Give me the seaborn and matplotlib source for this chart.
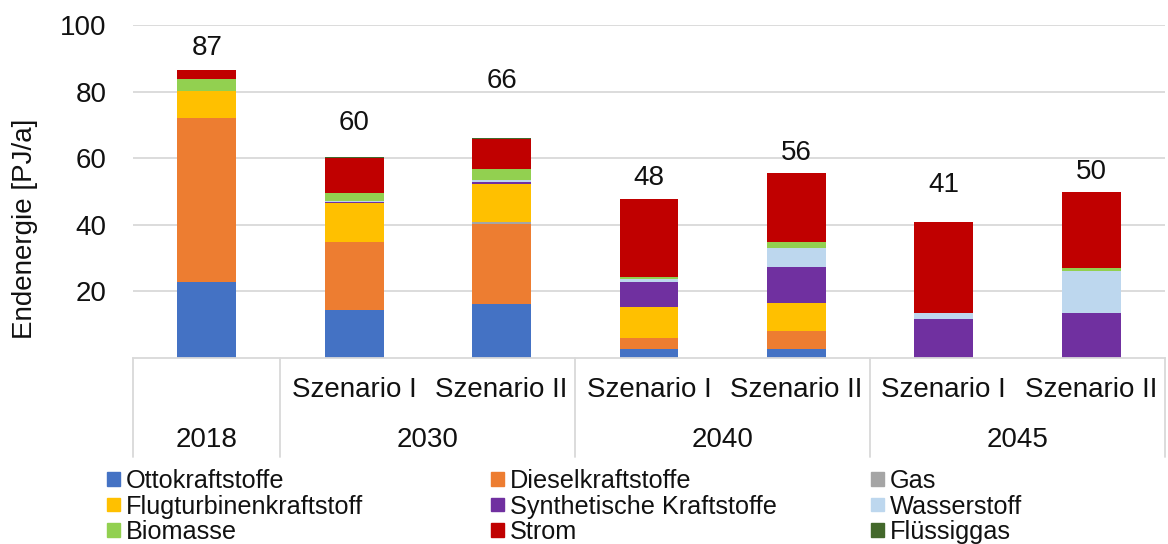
import matplotlib
matplotlib.use("Agg")
import matplotlib.pyplot as plt
import matplotlib.patches as mpatches
import matplotlib.transforms as mtransforms
import numpy as np
import pandas as pd
import seaborn as sns

# categories (year / scenario)
cats = ["2018", "2030 I", "2030 II", "2040 I", "2040 II", "2045 I", "2045 II"]
scen_labels = ["", "Szenario I", "Szenario II", "Szenario I", "Szenario II", "Szenario I", "Szenario II"]
years = ["2018", "2030", "2040", "2045"]

# PJ/a per energy carrier
otto = [22.8, 14.3, 16.3, 2.6, 2.6, 0, 0]
diesel = [49.3, 20.5, 23.9, 3.5, 5.6, 0, 0]
gas = [0, 0, 0.7, 0, 0, 0, 0]
flug = [8.2, 11.8, 11.3, 9.1, 8.3, 0, 0]
synth = [0, 0.3, 0.8, 7.6, 10.8, 11.7, 13.6]
wasserstoff = [0, 0.1, 0.4, 0.8, 5.6, 1.9, 12.6]
biomasse = [3.6, 2.4, 3.5, 0.8, 1.9, 0, 0.7]
strom = [2.5, 10.7, 9.0, 23.2, 20.8, 27.2, 23.1]
fluessiggas = [0.2, 0.2, 0.3, 0, 0, 0, 0]

series = ["Ottokraftstoffe", "Dieselkraftstoffe", "Gas", "Flugturbinenkraftstoff",
          "Synthetische Kraftstoffe", "Wasserstoff", "Biomasse", "Strom", "Flüssiggas"]
colors = ["#4472C4", "#ED7D31", "#A5A5A5", "#FFC000", "#7030A0",
          "#BDD7EE", "#92D050", "#C00000", "#43682B"]
values = [otto, diesel, gas, flug, synth, wasserstoff, biomasse, strom, fluessiggas]

# where the total labels sit (they are not all at the same distance in the original)
label_y = [93.1, 70.6, 83.3, 54.0, 61.6, 52.0, 55.9]

sns.set_theme(style="white")
plt.rcParams["font.family"] = ["Liberation Sans", "DejaVu Sans"]

fig = plt.figure(figsize=(11.68, 5.44), dpi=100)
ax = fig.add_axes([133 / 1168, 1 - 358 / 544, (1165 - 133) / 1168, (358 - 25) / 544])

df = pd.DataFrame(np.array(values).T, columns=series)
df["cat"] = cats
cum = df[series].cumsum(axis=1)

# stacked: draw cumulative heights from the top series down
for s, c in reversed(list(zip(series, colors))):
    sns.barplot(x=df["cat"], y=cum[s], order=cats, color=c, saturation=1,
                width=0.4, errorbar=None, linewidth=0, ax=ax)

totals = df[series].sum(axis=1)
for i, (t, ly) in enumerate(zip(totals, label_y)):
    ax.text(i, ly, f"{t:.0f}", ha="center", va="center", fontsize=20, color="#111111")

ax.set_xlim(-0.5, 6.5)
ax.set_ylim(0, 100)
ax.set_yticks([20, 40, 60, 80, 100])
ax.yaxis.grid(True, color="#d9d9d9", lw=1.3)
ax.set_axisbelow(True)
ax.tick_params(axis="y", length=4, color="#d9d9d9", width=1.3, pad=15, labelsize=20, labelcolor="#111111")
ax.set_xticks([])
ax.set_xlabel("")
ax.set_ylabel("")
for sp in ["left", "right", "top"]:
    ax.spines[sp].set_visible(False)
ax.spines["bottom"].set_color("#d9d9d9")
ax.spines["bottom"].set_linewidth(1.3)

# category table under the axis
trans = mtransforms.blended_transform_factory(ax.transData, ax.transAxes)
for xb in [-0.5, 0.5, 2.5, 4.5, 6.5]:
    ax.plot([xb, xb], [0, -0.297], color="#d9d9d9", lw=1.3, transform=trans, clip_on=False)
for i, lab in enumerate(scen_labels):
    if lab:
        ax.text(i, -0.096, lab, ha="center", va="center", fontsize=20, color="#111111", transform=trans)
for xp, yr in zip([0, 1.5, 3.5, 5.5], years):
    ax.text(xp, -0.246, yr, ha="center", va="center", fontsize=20, color="#111111", transform=trans)

fig.text(25 / 1168, 1 - 229 / 544, "Endenergie [PJ/a]", rotation=90, ha="center", va="center",
         fontsize=20, color="#111111")

# legend: three columns placed by hand
col_x = [107, 491, 871]
order = [[0, 3, 6], [1, 4, 7], [2, 5, 8]]
for cx, idx in zip(col_x, order):
    handles = [mpatches.Patch(color=colors[k], label=series[k]) for k in idx]
    fig.legend(handles=handles, loc="upper left", bbox_to_anchor=(cx / 1168, 1 - 469 / 544),
               frameon=False, fontsize=18.2, handlelength=0.5, handleheight=0.43,
               handletextpad=0.25, labelspacing=0.06, borderpad=0, borderaxespad=0,
               labelcolor="#111111")

fig.savefig("out.png", dpi=100)
